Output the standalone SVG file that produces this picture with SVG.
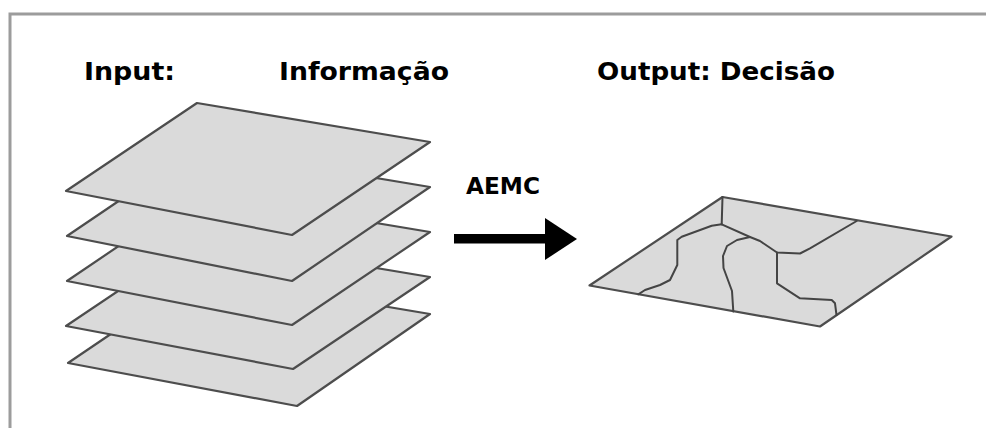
<svg xmlns="http://www.w3.org/2000/svg" width="986" height="428" viewBox="0 0 986 428">
  <style>
    .frame { fill: none; stroke: #9c9c9c; stroke-width: 3; }
    .sheet { fill: #dadada; stroke: #4d4d4d; stroke-width: 2.2; stroke-linejoin: round; }
    .region { fill: none; stroke: #444444; stroke-width: 2; stroke-linejoin: round; stroke-linecap: round; }
    .label { font-family: "DejaVu Sans", Verdana, sans-serif; font-weight: bold; fill: #000000; }
  </style>

  <rect width="986" height="428" fill="#ffffff"/>
  <path class="frame" d="M10,428 V14 H986"/>

  <!-- headings -->
  <g id="headings">
    <text class="label" x="84" y="80" font-size="25" textLength="91" lengthAdjust="spacingAndGlyphs">Input:</text>
    <text class="label" x="279" y="80" font-size="25" textLength="170" lengthAdjust="spacingAndGlyphs">Informação</text>
    <text class="label" x="597" y="80" font-size="25" textLength="238" lengthAdjust="spacingAndGlyphs">Output: Decisão</text>
  </g>

  <!-- stack of input information layers, drawn bottom first -->
  <g id="input-layers">
    <polygon class="sheet" points="198,275 430,314 297,406 68,363"/>
    <polygon class="sheet" points="197,238 430,277 293,369 66,326"/>
    <polygon class="sheet" points="197,193 430,232 292,325 67,281"/>
    <polygon class="sheet" points="197,148 430,187 292,281 67,236"/>
    <polygon class="sheet" points="197,103 430,142 292,235 66,191"/>
  </g>

  <!-- process arrow -->
  <g id="connectors">
    <g id="arrow-aemc">
      <rect x="454" y="234" width="93" height="9.5" fill="#000000"/>
      <polygon points="545,218 577,239 545,260" fill="#000000"/>
      <text class="label" x="466" y="194" font-size="22.5" textLength="74" lengthAdjust="spacingAndGlyphs">AEMC</text>
    </g>
  </g>

  <!-- decision map with zone boundaries -->
  <g id="output-map">
    <polygon class="sheet" points="722.5,197 951.5,236.5 820,326.5 589.5,285.5"/>
    <polyline class="region" points="722.5,197 721.7,224.3"/>
    <polyline class="region" points="721.7,224.3 711.7,225.7 681.7,236.7 677.3,240 677.3,265 670,280 660,285 645,290 638.3,294.3"/>
    <polyline class="region" points="721.7,224.3 750,237 760,241 777,252.5 800,253.5 810,248.3 856.7,221"/>
    <polyline class="region" points="750,237 737,240 727,246 723,256 723.5,268 732,291 733.3,311.5"/>
    <polyline class="region" points="777,252.5 777,283.3 800,298.3 831.7,300 835,303.3 836.5,315"/>
  </g>
</svg>
